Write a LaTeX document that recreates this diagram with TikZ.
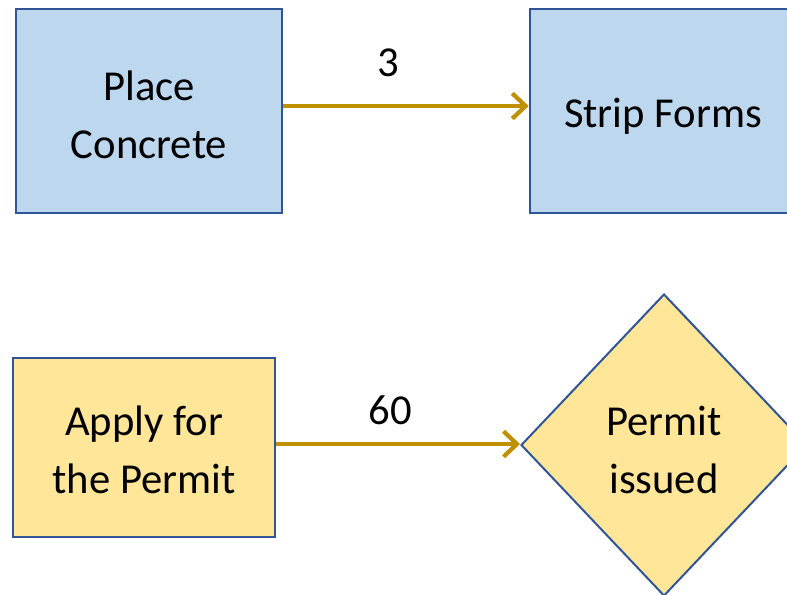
\documentclass[tikz,border=0pt]{standalone}
\usepackage{fontspec}
\setmainfont{Carlito}
\usetikzlibrary{arrows.meta,shapes.geometric}
\definecolor{bluefill}{HTML}{BDD7EE}
\definecolor{edgeblue}{HTML}{2F5597}
\definecolor{yellowfill}{HTML}{FFE699}
\definecolor{arrowgold}{HTML}{BF9000}
\tikzset{
  box/.style={draw=edgeblue, line width=2pt, inner sep=0pt},
  bluebox/.style={box, fill=bluefill},
  yellowbox/.style={box, fill=yellowfill},
  txt/.style={inner sep=0pt, align=center, font=\fontsize{32}{43.5}\selectfont},
  link/.style={draw=arrowgold, line width=3.2pt,
    -{Straight Barb[length=10pt,width=19pt,line width=3.2pt]}},
  lbl/.style={font=\fontsize{32}{38}\selectfont, inner sep=0pt}
}
\begin{document}
\begin{tikzpicture}[x=0.75pt,y=-0.75pt]
\useasboundingbox (0,0) rectangle (787,594);
\clip (0,0) rectangle (787,594);
\node[bluebox, minimum width=266*0.75pt, minimum height=204*0.75pt] (pc) at (149,111) {};
\node[txt] (pct) at (149,115) {Place\\Concrete};
\node[bluebox, minimum width=266*0.75pt, minimum height=204*0.75pt] (sf) at (663,111) {};
\node[txt] (sft) at (663,116) {Strip Forms};
\node[yellowbox, minimum width=262*0.75pt, minimum height=179*0.75pt] (ap) at (144,447.5) {};
\node[txt] (apt) at (144,450) {Apply for\\the Permit};
\node[diamond, draw=edgeblue, line width=1.5pt, fill=yellowfill, inner sep=0pt,
  minimum width=286*0.75pt, minimum height=302*0.75pt] (pi) at (664,445) {};
\node[txt] (pit) at (664,450) {Permit\\issued};
\coordinate (a1s) at (pc.east |- 0,106);
\coordinate (a1e) at (sf.west |- 0,106);
\draw[link] (a1s) -- (a1e);
\node[lbl] (l3) at (388,63) {3};
\coordinate (a2s) at (ap.east |- 0,444);
\coordinate (a2e) at (pi.west |- a2s);
\draw[link] (a2s) -- (a2e);
\node[lbl] (l60) at (390,410) {60};
\end{tikzpicture}
\end{document}
